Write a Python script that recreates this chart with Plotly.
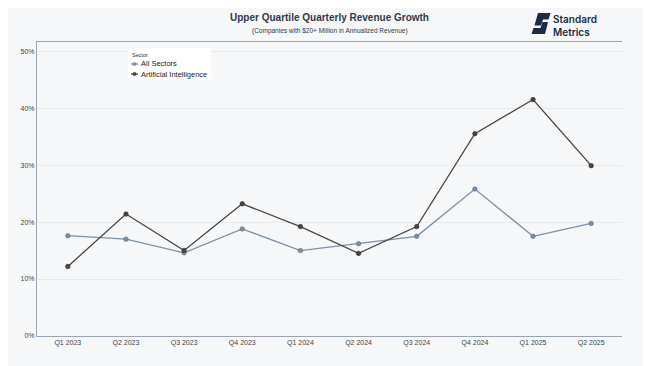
import plotly.graph_objects as go

quarters = ["Q1 2023", "Q2 2023", "Q3 2023", "Q4 2023", "Q1 2024",
            "Q2 2024", "Q3 2024", "Q4 2024", "Q1 2025", "Q2 2025"]
all_sectors = [17.6, 17.0, 14.6, 18.8, 15.0, 16.2, 17.5, 25.8, 17.5, 19.75]
ai = [12.2, 21.4, 15.0, 23.2, 19.2, 14.5, 19.2, 35.5, 41.5, 29.9]
series_names = ["All Sectors", "Artificial Intelligence"]
series_colors = ["#7d8fa8", "#4a4440"]
y_ticks = [0, 10, 20, 30, 40, 50]
y_tick_labels = ["0%", "10%", "20%", "30%", "40%", "50%"]

BG = "#f5f7f8"
FONT = "Liberation Sans, Arial, sans-serif"
NAVY = "#1d2b42"

# page has an 8px body margin; the figure is sized so that it still fills the window
OFF = 8
W, H = 651 - OFF, 366 - OFF
L, R, T, B = 29, 29, 34, 30
pw, ph = W - L - R, H - T - B
PLOT_LEFT, PLOT_BOTTOM = OFF + L, OFF + H - B


def px(x):
    return (x - PLOT_LEFT) / pw


def py(y):
    return (PLOT_BOTTOM - y) / ph


fig = go.Figure()
for name, vals, col, edge in [
    (series_names[0], all_sectors, series_colors[0], "#5d6e84"),
    (series_names[1], ai, series_colors[1], "#2e2a27"),
]:
    fig.add_trace(go.Scatter(
        x=quarters, y=vals, mode="lines+markers", name=name,
        line=dict(color=col, width=1.3),
        marker=dict(size=4.5, color=col, line=dict(color=edge, width=0.6)),
        showlegend=False,
    ))


def path(points):
    return "M " + " L ".join(f"{px(a):.4f},{py(b):.4f}" for a, b in points) + " Z"


shapes = [
    # logo mark
    dict(type="path", xref="paper", yref="paper", line=dict(width=0), fillcolor=NAVY,
         path=path([(538, 13), (550.5, 13), (548.5, 19.5), (543, 19.5), (541, 25.5), (534.5, 25.5)])),
    dict(type="path", xref="paper", yref="paper", line=dict(width=0), fillcolor=NAVY,
         path=path([(542.5, 22), (548, 22), (545, 34), (531.5, 34), (533.5, 28), (540.5, 28)])),
    # legend box
    dict(type="rect", xref="paper", yref="paper", x0=px(128), x1=px(211), y0=py(48), y1=py(80),
         fillcolor="white", line=dict(width=0), layer="above"),
]

annotations = [
    dict(text="(Companies with $20+ Million in Annualized Revenue)", xref="paper", yref="paper",
         x=0.5, y=py(31), xanchor="center", yanchor="middle", showarrow=False,
         font=dict(size=6.5, color="#2e3a4b", family=FONT)),
    dict(text="Standard<br>Metrics", xref="paper", yref="paper", x=px(551), y=py(25),
         xanchor="left", yanchor="middle", align="left", showarrow=False,
         font=dict(size=10, color=NAVY, family="Inter, sans-serif", weight=600)),
    dict(text="Sector", xref="paper", yref="paper", x=px(130), y=py(54.5),
         xanchor="left", yanchor="middle", showarrow=False,
         font=dict(size=5.5, color="#333", family=FONT)),
]

for i, (name, col) in enumerate(zip(series_names, series_colors)):
    yy = 64 + 10 * i
    shapes.append(dict(type="line", xref="paper", yref="paper", x0=px(131), x1=px(138),
                       y0=py(yy), y1=py(yy), line=dict(color=col, width=1.3), layer="above"))
    shapes.append(dict(type="circle", xref="paper", yref="paper", x0=px(132.8), x1=px(136.2),
                       y0=py(yy + 1.7), y1=py(yy - 1.7), fillcolor=col,
                       line=dict(color=col, width=0.5), layer="above"))
    annotations.append(dict(text=name, xref="paper", yref="paper", x=px(139), y=py(yy),
                            xanchor="left", yanchor="middle", showarrow=False,
                            font=dict(size=7.5, color="#222", family=FONT)))

fig.update_layout(
    width=W, height=H,
    margin=dict(l=L, r=R, t=T, b=B),
    paper_bgcolor=BG, plot_bgcolor=BG,
    font=dict(family=FONT, color="#444", size=8),
    title=dict(
        text="<b>Upper Quartile Quarterly Revenue Growth</b>",
        x=0.5, xanchor="center", xref="paper", y=1 - (17 - OFF) / H, yanchor="middle",
        font=dict(size=10, color="#2e3a4b", family=FONT),
    ),
    annotations=annotations,
    shapes=shapes,
    showlegend=False,
    xaxis=dict(
        type="category", range=[-0.53, 9.53], showgrid=False,
        showline=True, linecolor="#9ba5b0", linewidth=1, mirror=True,
        ticks="", tickfont=dict(size=7, color="#444"),
    ),
    yaxis=dict(
        range=[0, 51.6], tickvals=y_ticks, ticktext=y_tick_labels,
        showgrid=True, gridcolor="#e6eaed", gridwidth=1, zeroline=False,
        showline=True, linecolor="#9ba5b0", linewidth=1,
        ticks="", tickfont=dict(size=7, color="#444"),
    ),
)

fig.write_html("out.html")
